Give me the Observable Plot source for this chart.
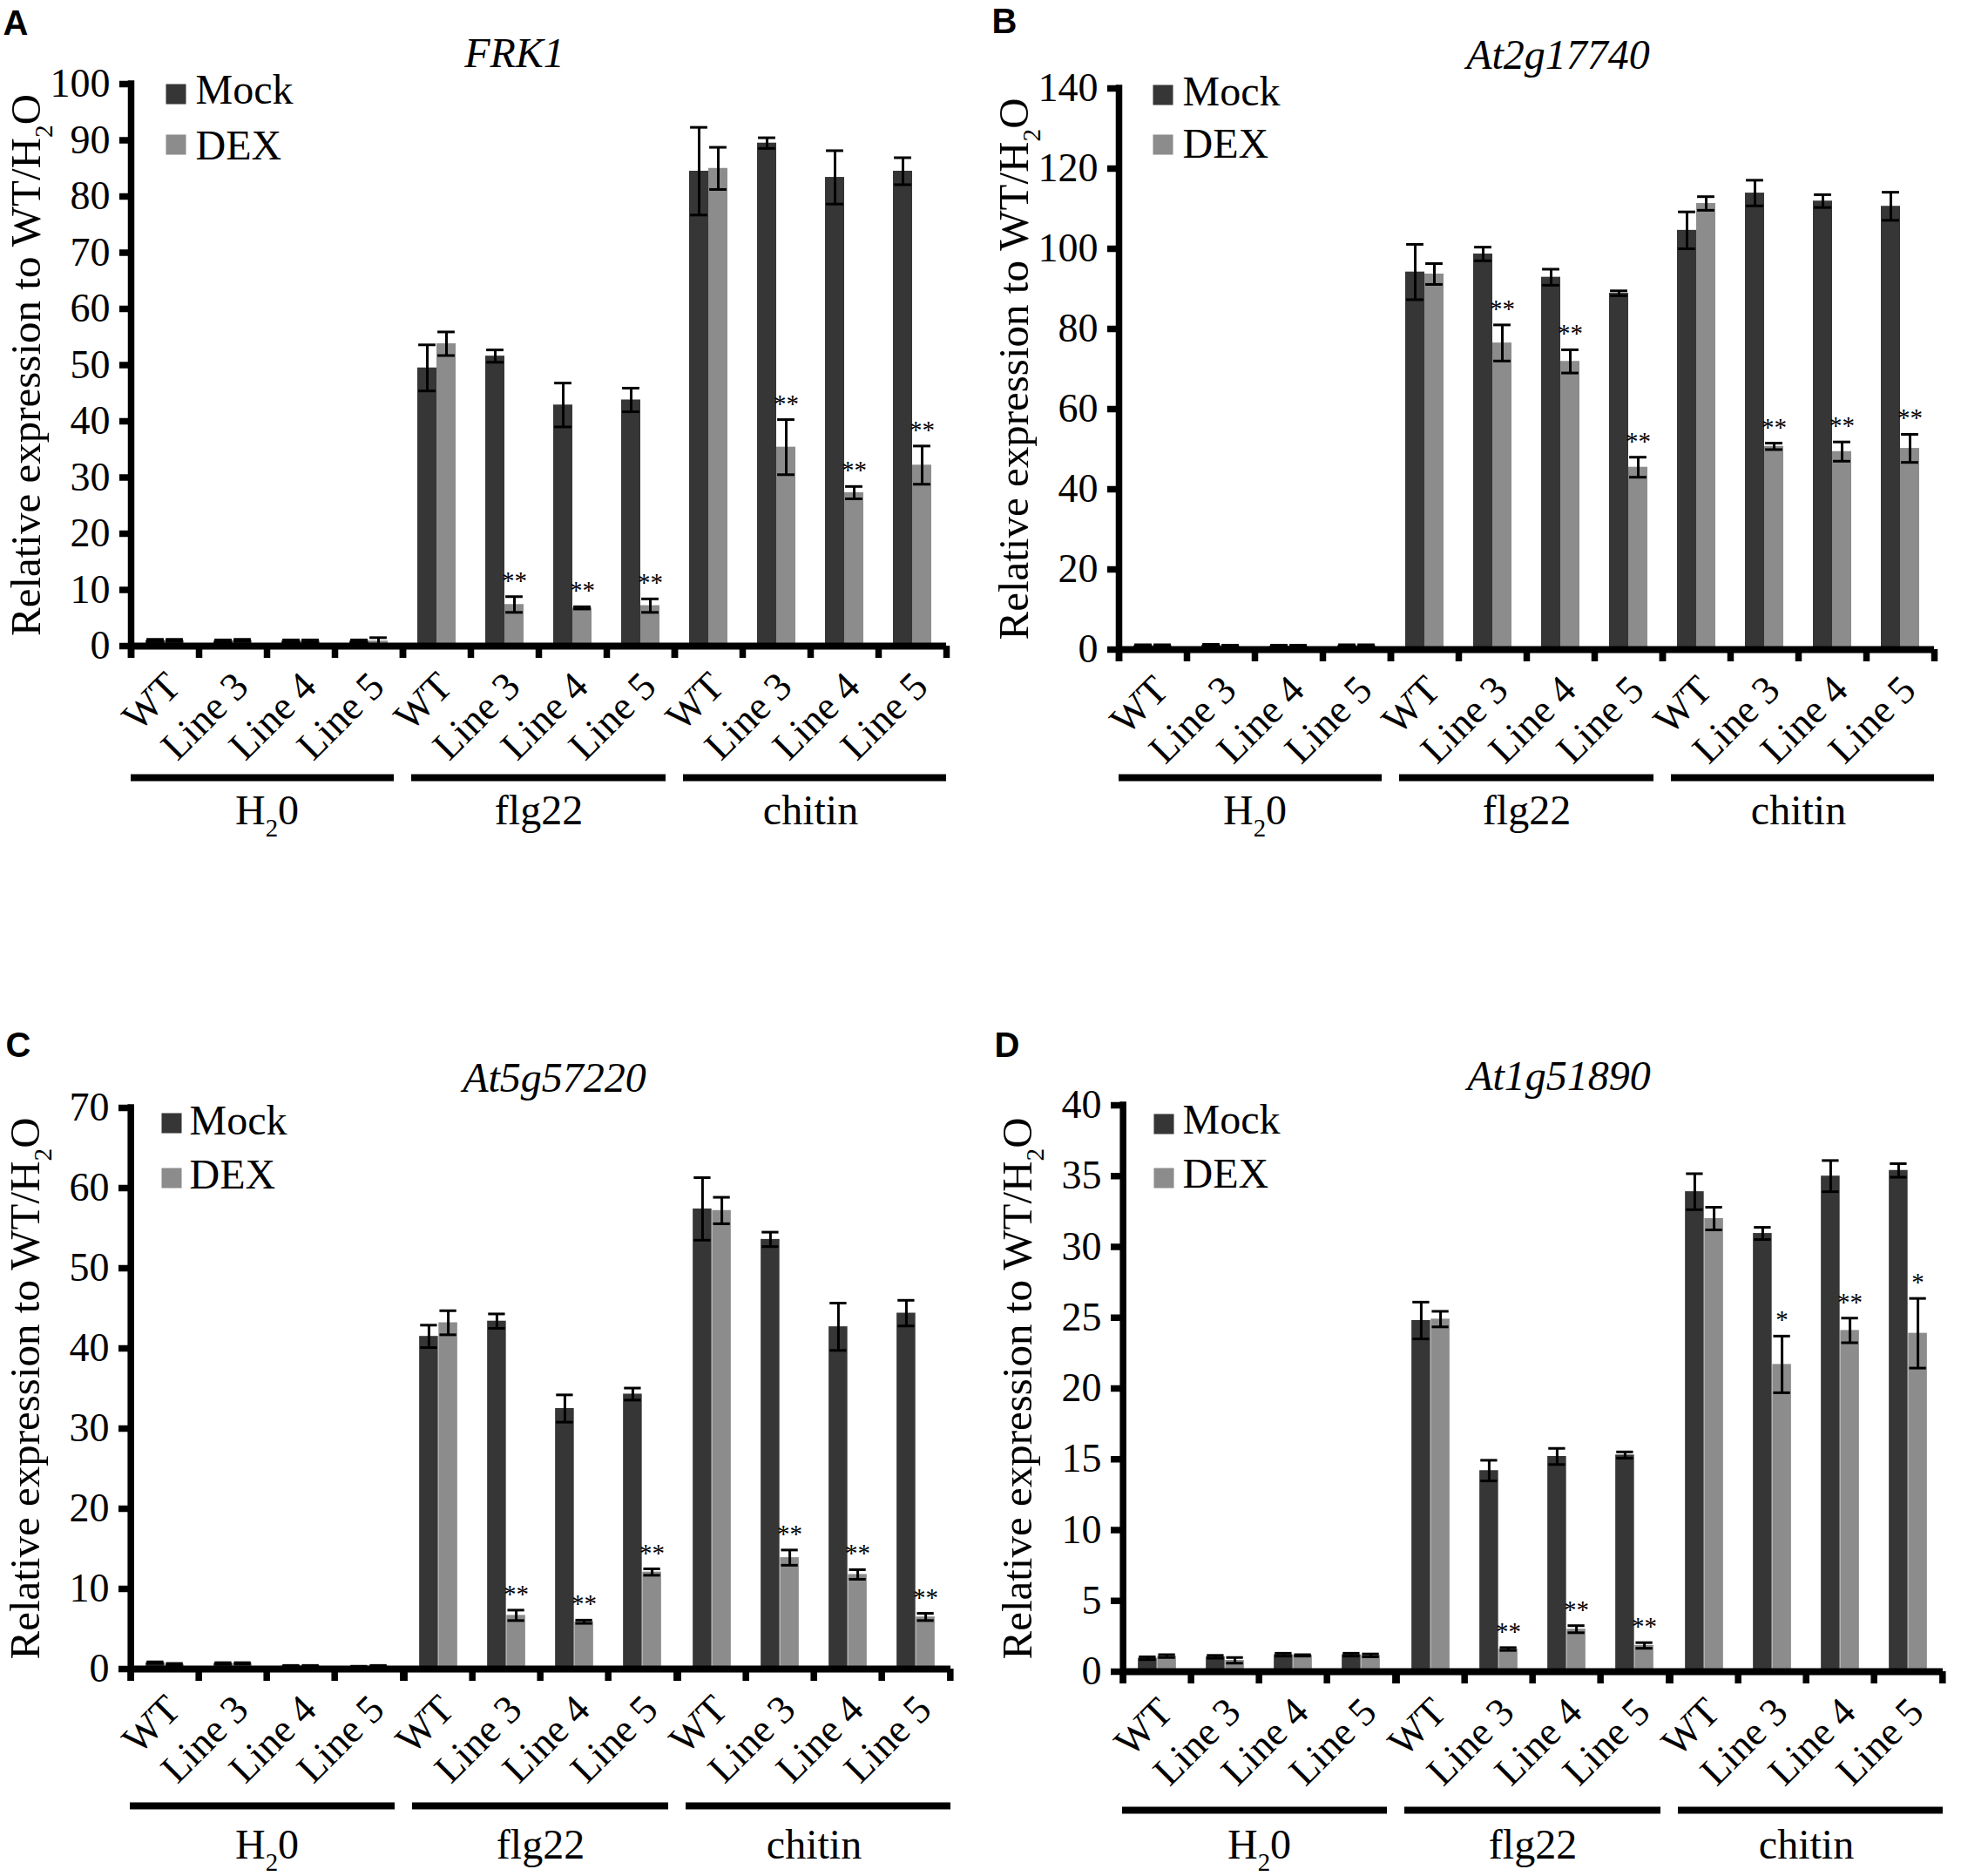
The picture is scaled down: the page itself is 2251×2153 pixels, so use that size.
<!DOCTYPE html>
<html>
<head>
<meta charset="utf-8">
<script src="https://cdn.jsdelivr.net/npm/d3@7"></script>
<script src="https://cdn.jsdelivr.net/npm/@observablehq/plot@0.6"></script>
<style>
  html, body { margin: 0; padding: 0; background: #fff; }
  #fig { position: relative; width: 2251px; height: 2153px; background: #fff; overflow: hidden; }
  #fig > div { position: absolute; }
</style>
</head>
<body>
<div id="fig"></div>
<script>
// ---------- categories ----------
const treatments = ["H2O", "flg22", "chitin"];
const treatmentLabels = ["H₂0", "flg22", "chitin"];
const lines = ["WT", "Line 3", "Line 4", "Line 5"];
const seriesNames = ["Mock", "DEX"];
const yTitle = "Relative expression to WT/H₂O";

// ---------- A: FRK1 ----------
const frk1Mock    = [1.0, 0.9, 0.9, 0.9, 49.5, 51.6, 42.9, 43.8, 84.5, 89.5, 83.4, 84.5];
const frk1MockErr = [0.2, 0.2, 0.2, 0.2, 4.1, 1.1, 3.9, 2.1, 7.8, 0.95, 4.75, 2.4];
const frk1Dex     = [1.0, 1.0, 0.9, 0.9, 53.8, 7.4, 6.8, 7.2, 85.0, 35.4, 27.3, 32.2];
const frk1DexErr  = [0.2, 0.2, 0.2, 0.6, 2.1, 1.4, 0.2, 1.2, 3.75, 4.9, 1.1, 3.4];
const frk1Sig     = ["", "", "", "", "", "**", "**", "**", "", "**", "**", "**"];
const frk1Ticks   = [0, 10, 20, 30, 40, 50, 60, 70, 80, 90, 100];

// ---------- B: At2g17740 ----------
const at2gMock    = [1.0, 1.1, 0.9, 1.0, 94.2, 98.7, 92.9, 88.9, 104.6, 113.9, 111.9, 110.6];
const at2gMockErr = [0.2, 0.2, 0.2, 0.2, 6.9, 1.7, 2.0, 0.6, 4.6, 3.2, 1.6, 3.5];
const at2gDex     = [1.0, 0.9, 0.9, 1.0, 93.7, 76.5, 71.9, 45.5, 111.3, 50.7, 49.4, 50.2];
const at2gDexErr  = [0.2, 0.2, 0.2, 0.2, 2.6, 4.5, 2.9, 2.5, 1.7, 0.8, 2.4, 3.5];
const at2gSig     = ["", "", "", "", "", "**", "**", "**", "", "**", "**", "**"];
const at2gTicks   = [0, 20, 40, 60, 80, 100, 120, 140];

// ---------- C: At5g57220 ----------
const at5gMock    = [0.8, 0.7, 0.4, 0.3, 41.5, 43.4, 32.5, 34.3, 57.4, 53.6, 42.7, 44.4];
const at5gMockErr = [0.1, 0.1, 0.05, 0.05, 1.4, 0.9, 1.7, 0.75, 3.9, 0.9, 2.95, 1.6];
const at5gDex     = [0.6, 0.7, 0.4, 0.4, 43.2, 6.7, 5.9, 12.1, 57.2, 13.9, 11.8, 6.5];
const at5gDexErr  = [0.1, 0.1, 0.05, 0.05, 1.5, 0.65, 0.2, 0.4, 1.65, 0.95, 0.6, 0.45];
const at5gSig     = ["", "", "", "", "", "**", "**", "**", "", "**", "**", "**"];
const at5gTicks   = [0, 10, 20, 30, 40, 50, 60, 70];

// ---------- D: At1g51890 ----------
const at1gMock    = [0.95, 1.05, 1.2, 1.2, 24.8, 14.2, 15.2, 15.3, 33.9, 30.95, 35.0, 35.4];
const at1gMockErr = [0.1, 0.1, 0.1, 0.1, 1.3, 0.73, 0.57, 0.22, 1.27, 0.43, 1.1, 0.48];
const at1gDex     = [1.1, 0.8, 1.15, 1.15, 24.9, 1.6, 3.0, 1.85, 32.0, 21.7, 24.1, 23.9];
const at1gDexErr  = [0.1, 0.2, 0.05, 0.1, 0.55, 0.1, 0.25, 0.2, 0.8, 2.0, 0.87, 2.46];
const at1gSig     = ["", "", "", "", "", "**", "**", "**", "", "*", "**", "*"];
const at1gTicks   = [0, 5, 10, 15, 20, 25, 30, 35, 40];

// ---------- styles ----------
const mockColor = "#363636";
const dexColor = "#8c8c8c";
const serif = "'Liberation Serif', 'Times New Roman', Times, serif";
const sans = "'Liberation Sans', Arial, Helvetica, sans-serif";

const panels = [
  {letter: "A", title: "FRK1", mock: frk1Mock, mockErr: frk1MockErr, dex: frk1Dex, dexErr: frk1DexErr, sig: frk1Sig, ticks: frk1Ticks,
   layout: {left: 0, top: 0, width: 1125, height: 1000, axisX: 150, innerW: 936, topY: 96, zeroY: 741,
     letterPos: [3, 39], titlePos: [590, 76], leg: {sq: 190, mock: 96, dex: 154, text: 224, mockBase: 118, dexBase: 182}, gbar: 151, glab: 204}},
  {letter: "B", title: "At2g17740", mock: at2gMock, mockErr: at2gMockErr, dex: at2gDex, dexErr: at2gDexErr, sig: at2gSig, ticks: at2gTicks,
   layout: {left: 1125, top: 0, width: 1126, height: 1000, axisX: 1284, innerW: 936, topY: 101, zeroY: 745,
     letterPos: [1138, 37], titlePos: [1788, 78], leg: {sq: 1323, mock: 97, dex: 154, text: 1357, mockBase: 120, dexBase: 180}, gbar: 147, glab: 200}},
  {letter: "C", title: "At5g57220", mock: at5gMock, mockErr: at5gMockErr, dex: at5gDex, dexErr: at5gDexErr, sig: at5gSig, ticks: at5gTicks,
   layout: {left: 0, top: 1130, width: 1125, height: 1023, axisX: 148, innerW: 944, topY: 1271, zeroY: 1915,
     letterPos: [5, 1212], titlePos: [635, 1252], leg: {sq: 184, mock: 1277, dex: 1340, text: 216, mockBase: 1301, dexBase: 1363}, gbar: 157, glab: 217}},
  {letter: "D", title: "At1g51890", mock: at1gMock, mockErr: at1gMockErr, dex: at1gDex, dexErr: at1gDexErr, sig: at1gSig, ticks: at1gTicks,
   layout: {left: 1125, top: 1130, width: 1126, height: 1023, axisX: 1287, innerW: 944, topY: 1268, zeroY: 1918,
     letterPos: [1140, 1212], titlePos: [1788, 1250], leg: {sq: 1323, mock: 1278, dex: 1340, text: 1356, mockBase: 1300, dexBase: 1362}, gbar: 159, glab: 214}}
];

const cats = treatments.flatMap(t => lines.map(l => ({treatment: t, line: l})));

function applySubscripts(svg) {
  const ns = "http://www.w3.org/2000/svg";
  svg.querySelectorAll("text").forEach(el => {
    if (el.children.length) return;
    const s = el.textContent;
    if (!s.includes("₂")) return;
    const [a, b] = s.split("₂");
    el.textContent = "";
    const t1 = document.createElementNS(ns, "tspan"); t1.textContent = a; el.appendChild(t1);
    const t2 = document.createElementNS(ns, "tspan"); t2.textContent = "2";
    t2.setAttribute("font-size", "60%"); t2.setAttribute("dy", "0.5em"); el.appendChild(t2);
    const t3 = document.createElementNS(ns, "tspan"); t3.textContent = b;
    t3.setAttribute("dy", "-0.3em"); el.appendChild(t3);
  });
}

function drawPanel(p) {
  const L = p.layout;
  const mL = L.axisX - L.left;
  const mR = L.width - mL - L.innerW;
  const mT = L.topY - L.top;
  const mB = L.top + L.height - L.zeroY;
  const innerH = L.height - mT - mB;
  const step = L.innerW / 12;
  const half = step / 2;
  const barW = step * 0.282;
  const capW = barW * 0.9;
  const axisW = 7.5;
  const tickLen = 14;
  const rows = cats.map((c, i) => ({...c, mock: p.mock[i], mockErr: p.mockErr[i], dex: p.dex[i], dexErr: p.dexErr[i], sig: p.sig[i]}));
  const first = [{treatment: "H2O"}];
  const fxFirst = () => "H2O";
  const yMax = p.ticks[p.ticks.length - 1];

  const capMock = {insetLeft: half - barW / 2 - capW / 2, insetRight: half + barW / 2 - capW / 2};
  const capDex = {insetLeft: half + barW / 2 - capW / 2, insetRight: half - barW / 2 - capW / 2};

  const marks = [
    // bars
    Plot.barY(rows, {fx: "treatment", x: "line", y: "mock", fill: mockColor, insetLeft: half - barW, insetRight: half}),
    Plot.barY(rows, {fx: "treatment", x: "line", y: "dex", fill: dexColor, insetLeft: half, insetRight: half - barW}),
    // error bars
    Plot.ruleX(rows, {fx: "treatment", x: "line", y1: d => d.mock - d.mockErr, y2: d => d.mock + d.mockErr, dx: -barW / 2, stroke: "#000", strokeWidth: 3}),
    Plot.ruleX(rows, {fx: "treatment", x: "line", y1: d => d.dex - d.dexErr, y2: d => d.dex + d.dexErr, dx: barW / 2, stroke: "#000", strokeWidth: 3}),
    Plot.tickY(rows, {fx: "treatment", x: "line", y: d => d.mock + d.mockErr, stroke: "#000", strokeWidth: 3, ...capMock}),
    Plot.tickY(rows, {fx: "treatment", x: "line", y: d => d.mock - d.mockErr, stroke: "#000", strokeWidth: 3, ...capMock}),
    Plot.tickY(rows, {fx: "treatment", x: "line", y: d => d.dex + d.dexErr, stroke: "#000", strokeWidth: 3, ...capDex}),
    Plot.tickY(rows, {fx: "treatment", x: "line", y: d => d.dex - d.dexErr, stroke: "#000", strokeWidth: 3, ...capDex}),
    // significance
    Plot.text(rows.filter(d => d.sig), {fx: "treatment", x: "line", y: d => d.dex + d.dexErr, text: "sig", dx: barW / 2, dy: -9, lineAnchor: "bottom", fontSize: 29, fill: "#000"}),
    // x axis line
    Plot.ruleY([0], {stroke: "#000", strokeWidth: 8}),
    // category boundary ticks
    Plot.ruleX(lines, {x: d => d, dx: -half, insetTop: innerH, insetBottom: -tickLen, stroke: "#000", strokeWidth: axisW}),
    Plot.ruleX(["Line 5"], {x: d => d, dx: half, insetTop: innerH, insetBottom: -tickLen, stroke: "#000", strokeWidth: axisW}),
    // y axis line
    Plot.ruleX(first, {fx: fxFirst, x: () => "WT", dx: -half, insetTop: -axisW / 2, insetBottom: -tickLen, stroke: "#000", strokeWidth: axisW}),
    Plot.axisY(p.ticks, {anchor: "left", tickSize: 13, tickPadding: 11, fontSize: 46, strokeWidth: axisW, stroke: "#000", fill: "#000", label: null, tickFormat: d => String(d)}),
    // category tick labels
    Plot.text(rows, {fx: "treatment", x: "line", text: "line", frameAnchor: "bottom", rotate: -45, textAnchor: "end", lineAnchor: "bottom", dx: 20, dy: 49, fontSize: 46, fill: "#000"}),
    // group labels
    Plot.text(treatments.map((t, i) => ({treatment: t, label: treatmentLabels[i]})), {fx: "treatment", text: "label", frameAnchor: "bottom", dy: L.glab, lineAnchor: "bottom", fontSize: 48, fill: "#000"}),
    // y title
    Plot.text(first, {fx: fxFirst, text: () => yTitle, frameAnchor: "left", dx: -105, rotate: -90, textAnchor: "middle", lineAnchor: "bottom", fontSize: 49, fill: "#000"}),
    // gene title
    Plot.text(first, {fx: fxFirst, text: () => p.title, frameAnchor: "top-left", dx: L.titlePos[0] - L.axisX, dy: L.titlePos[1] - L.topY, textAnchor: "middle", lineAnchor: "bottom", fontSize: 48, fontStyle: "italic", fill: "#000"}),
    // panel letter
    Plot.text(first, {fx: fxFirst, text: () => p.letter, frameAnchor: "top-left", dx: L.letterPos[0] - L.axisX, dy: L.letterPos[1] - L.topY, textAnchor: "start", lineAnchor: "bottom", fontSize: 40, fontWeight: "bold", fontFamily: sans, fill: "#000"}),
    // legend
    Plot.dot(first, {fx: fxFirst, frameAnchor: "top-left", dx: L.leg.sq + 11.5 - L.axisX, dy: L.leg.mock + 11.5 - L.topY, symbol: "square", r: 13, fill: mockColor, stroke: "none"}),
    Plot.dot(first, {fx: fxFirst, frameAnchor: "top-left", dx: L.leg.sq + 11.5 - L.axisX, dy: L.leg.dex + 11.5 - L.topY, symbol: "square", r: 13, fill: dexColor, stroke: "none"}),
    Plot.text(first, {fx: fxFirst, text: () => seriesNames[0], frameAnchor: "top-left", dx: L.leg.text - L.axisX, dy: L.leg.mockBase - L.topY, textAnchor: "start", lineAnchor: "bottom", fontSize: 48, fill: "#000"}),
    Plot.text(first, {fx: fxFirst, text: () => seriesNames[1], frameAnchor: "top-left", dx: L.leg.text - L.axisX, dy: L.leg.dexBase - L.topY, textAnchor: "start", lineAnchor: "bottom", fontSize: 48, fill: "#000"})
  ];

  // group bars (one per treatment)
  treatments.forEach((t, i) => {
    marks.push(Plot.ruleY([t], {fx: d => d, y: () => 0, dy: L.gbar, insetLeft: i === 0 ? 0 : 10, insetRight: i === treatments.length - 1 ? 0 : 10, stroke: "#000", strokeWidth: 8}));
  });

  const svg = Plot.plot({
    width: L.width,
    height: L.height,
    marginLeft: mL,
    marginRight: mR,
    marginTop: mT,
    marginBottom: mB,
    style: {fontFamily: serif, background: "#fff", color: "#000", overflow: "visible"},
    fx: {domain: treatments, padding: 0, axis: null, label: null},
    x: {domain: lines, padding: 0, axis: null, label: null},
    y: {domain: [0, yMax], label: null},
    marks
  });
  applySubscripts(svg);
  const holder = document.createElement("div");
  holder.style.left = L.left + "px";
  holder.style.top = L.top + "px";
  holder.appendChild(svg);
  document.getElementById("fig").appendChild(holder);
}

panels.forEach(drawPanel);
</script>
</body>
</html>
